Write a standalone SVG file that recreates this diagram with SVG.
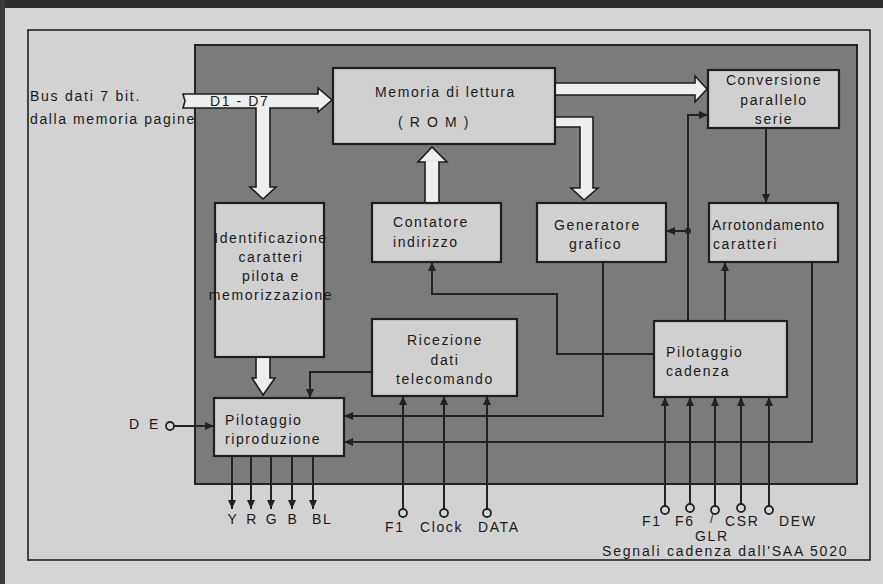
<svg xmlns="http://www.w3.org/2000/svg" width="883" height="584" viewBox="0 0 883 584">
<defs>
<style>
.paper{fill:#d6d6d6}
.chip{fill:#7b7b7b;stroke:#222;stroke-width:2}
.box{fill:#d0d0d0;stroke:#1e1e1e;stroke-width:2.2}
.wide{fill:#eeeeee;stroke:#1e1e1e;stroke-width:1.6;stroke-linejoin:miter}
.wire{fill:none;stroke:#222;stroke-width:2}
.pin{fill:#d6d6d6;stroke:#222;stroke-width:1.8}
.dot{fill:#222}
text{font-family:"Liberation Sans",Arial,sans-serif;font-size:14px;fill:#1a1a1a;letter-spacing:1.6px}
.mid{text-anchor:middle}
</style>
<marker id="ah" markerUnits="userSpaceOnUse" markerWidth="9" markerHeight="8" refX="9" refY="4" orient="auto">
<path d="M0,0 L9,4 L0,8 z" fill="#222"/>
</marker>
</defs>

<rect x="0" y="0" width="883" height="584" class="paper"/>
<rect x="0" y="0" width="883" height="8" fill="#2e2e2e"/>
<rect x="0" y="0" width="5" height="584" fill="#3a3a3a"/>
<rect x="28" y="30" width="842" height="530" fill="#d2d2d2" stroke="#222" stroke-width="1.6"/>
<rect x="195" y="45" width="662" height="439" class="chip"/>

<g id="connectors">
<polygon class="wide" points="183,94 318,94 318,88 332,100 318,112 318,108 270,108 270,187 276,187 263,199 250,187 256,187 256,108 183,108 185,101"/>
<polygon class="wide" points="555,83 695,83 695,76 707,89 695,102 695,95 555,95"/>
<polygon class="wide" points="555,117 593,117 593,188 598,188 584,200 571,188 580,188 580,127 555,127"/>
<polygon class="wide" points="425,203 425,162 418,162 432,147 447,162 439,162 439,203"/>
<polygon class="wide" points="256,357 256,378 252,378 263,395 275,378 270,378 270,357"/>

<path class="wire" d="M766,128 V203" marker-end="url(#ah)"/>
<path class="wire" d="M688,321 V115 H708" marker-end="url(#ah)"/>
<path class="wire" d="M688,231 H666" marker-end="url(#ah)"/>
<circle class="dot" cx="688" cy="231" r="3"/>
<path class="wire" d="M725,321 V262" marker-end="url(#ah)"/>
<path class="wire" d="M812,262 V442 H344" marker-end="url(#ah)"/>
<path class="wire" d="M603,262 V416 H344" marker-end="url(#ah)"/>
<path class="wire" d="M654,354 H557 V294 H432 V262" marker-end="url(#ah)"/>
<path class="wire" d="M372,372 H310 V398" marker-end="url(#ah)"/>

<path class="wire" d="M403,509 V396" marker-end="url(#ah)"/>
<path class="wire" d="M444,509 V396" marker-end="url(#ah)"/>
<path class="wire" d="M487,509 V396" marker-end="url(#ah)"/>
<circle class="pin" cx="403" cy="513" r="4"/>
<circle class="pin" cx="444" cy="513" r="4"/>
<circle class="pin" cx="487" cy="513" r="4"/>

<path class="wire" d="M174,426 H214" marker-end="url(#ah)"/>
<circle class="pin" cx="170" cy="426" r="4"/>

<path class="wire" d="M232,456 V509" marker-end="url(#ah)"/>
<path class="wire" d="M251,456 V509" marker-end="url(#ah)"/>
<path class="wire" d="M271,456 V509" marker-end="url(#ah)"/>
<path class="wire" d="M292,456 V509" marker-end="url(#ah)"/>
<path class="wire" d="M313,456 V509" marker-end="url(#ah)"/>

<path class="wire" d="M665,506 V397" marker-end="url(#ah)"/>
<path class="wire" d="M690,504 V397" marker-end="url(#ah)"/>
<path class="wire" d="M715,506 V397" marker-end="url(#ah)"/>
<path class="wire" d="M741,504 V397" marker-end="url(#ah)"/>
<path class="wire" d="M769,506 V397" marker-end="url(#ah)"/>
<circle class="pin" cx="665" cy="510" r="4"/>
<circle class="pin" cx="690" cy="508" r="4"/>
<circle class="pin" cx="715" cy="510" r="4"/>
<circle class="pin" cx="741" cy="508" r="4"/>
<circle class="pin" cx="769" cy="510" r="4"/>
</g>

<g id="rom">
<rect class="box" x="333" y="68" width="222" height="76"/>
<text x="375" y="97">Memoria di lettura</text>
<text x="398" y="127">( R O M )</text>
</g>

<g id="conversione">
<rect class="box" x="708" y="70" width="131" height="58"/>
<text class="mid" x="774" y="85">Conversione</text>
<text class="mid" x="774" y="105">parallelo</text>
<text class="mid" x="774" y="124">serie</text>
</g>

<g id="identificazione">
<rect class="box" x="215" y="203" width="109" height="154"/>
<text class="mid" x="271" y="243">Identificazione</text>
<text class="mid" x="271" y="262">caratteri</text>
<text class="mid" x="271" y="281">pilota e</text>
<text class="mid" x="271" y="300">memorizzazione</text>
</g>

<g id="contatore">
<rect class="box" x="372" y="203" width="129" height="59"/>
<text x="393" y="227">Contatore</text>
<text x="393" y="247">indirizzo</text>
</g>

<g id="generatore">
<rect class="box" x="537" y="203" width="129" height="59"/>
<text x="554" y="230">Generatore</text>
<text x="569" y="249">grafico</text>
</g>

<g id="arrotondamento">
<rect class="box" x="709" y="203" width="129" height="59"/>
<text x="712" y="230" style="letter-spacing:0.9px">Arrotondamento</text>
<text x="713" y="249">caratteri</text>
</g>

<g id="ricezione">
<rect class="box" x="372" y="319" width="145" height="77"/>
<text class="mid" x="445" y="345">Ricezione</text>
<text class="mid" x="445" y="365">dati</text>
<text class="mid" x="445" y="384">telecomando</text>
</g>

<g id="pilotaggio-cadenza">
<rect class="box" x="654" y="321" width="133" height="76"/>
<text x="666" y="357">Pilotaggio</text>
<text x="666" y="376">cadenza</text>
</g>

<g id="pilotaggio-riproduzione">
<rect class="box" x="214" y="398" width="130" height="58"/>
<text x="225" y="425">Pilotaggio</text>
<text x="225" y="444">riproduzione</text>
</g>

<g id="labels">
<text x="30" y="101" style="letter-spacing:1.75px">Bus dati 7 bit.</text>
<text x="30" y="124">dalla memoria pagine</text>
<text x="210" y="106">D1 - D7</text>
<text x="129" y="429" style="letter-spacing:3px">D E</text>
<text class="mid" x="233" y="524">Y</text>
<text class="mid" x="252" y="524">R</text>
<text class="mid" x="272" y="524">G</text>
<text class="mid" x="293" y="524">B</text>
<text x="312" y="524">BL</text>
<text x="385" y="532">F1</text>
<text x="420" y="532">Clock</text>
<text x="478" y="532">DATA</text>
<text x="642" y="526">F1</text>
<text x="675" y="526">F6</text>
<text x="710" y="523" style="font-size:12px">/</text>
<text x="695" y="541">GLR</text>
<text x="725" y="526">CSR</text>
<text x="779" y="526">DEW</text>
<text x="602" y="556" style="letter-spacing:1.8px">Segnali cadenza dall'SAA 5020</text>
</g>
</svg>
